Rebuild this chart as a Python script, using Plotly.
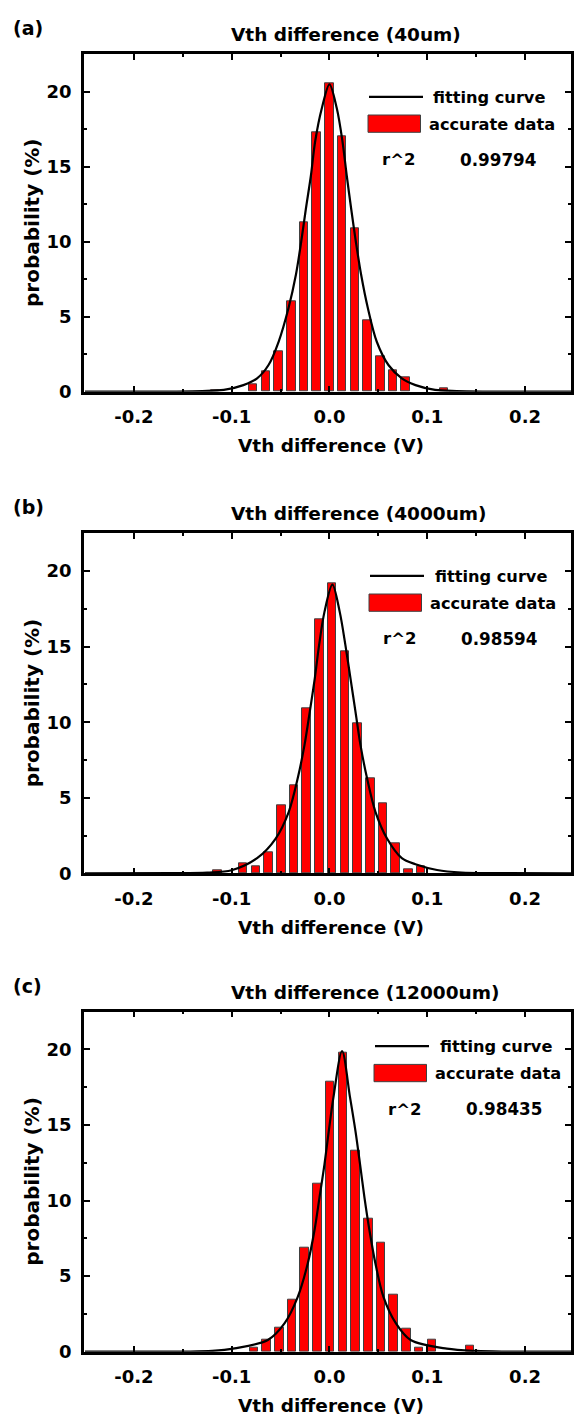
import plotly.graph_objects as go

# ---------------- data ----------------
xtick_vals = [-0.2, -0.1, 0.0, 0.1, 0.2]
xtick_text = ["-0.2", "-0.1", "0.0", "0.1", "0.2"]
ytick_vals = [0, 5, 10, 15, 20]
ytick_text = ["0", "5", "10", "15", "20"]

panel_labels = ["(a)", "(b)", "(c)"]
titles = ["Vth difference (40um)", "Vth difference (4000um)", "Vth difference (12000um)"]
r2_values = ["0.99794", "0.98594", "0.98435"]

# panel (a)
bins_a = [-0.117, -0.078, -0.065, -0.052, -0.039, -0.026, -0.013, 0.0,
          0.013, 0.026, 0.039, 0.052, 0.065, 0.078, 0.117]
prob_a = [0.12, 0.5, 1.33, 2.71, 6.0, 11.27, 17.3, 20.55,
          17.0, 10.9, 4.78, 2.38, 1.44, 0.96, 0.2]
fit_x_a = [-0.25, -0.16, -0.13, -0.108, -0.088, -0.074, -0.0623, -0.052, -0.0418,
           -0.0343, -0.0289, -0.0241, -0.019, -0.0146, -0.0078, 0.0,
           0.0075, 0.0133, 0.0177, 0.0222, 0.027, 0.0324, 0.0392, 0.0484,
           0.0603, 0.074, 0.088, 0.108, 0.13, 0.16, 0.25]
fit_y_a = [0.0, 0.01, 0.04, 0.12, 0.44, 0.89, 1.78, 3.33, 5.6,
           7.8, 10.0, 12.2, 14.4, 16.7, 18.9, 20.5,
           18.9, 16.7, 14.4, 12.2, 10.0, 7.8, 5.6, 3.33,
           1.78, 0.89, 0.44, 0.12, 0.04, 0.01, 0.0]

# panel (b)
bins_b = [-0.1143, -0.0883, -0.0753, -0.0623, -0.0493, -0.0363, -0.0233, -0.0103,
          0.0027, 0.0157, 0.0287, 0.0417, 0.0547, 0.0677, 0.0807, 0.0937]
prob_b = [0.18, 0.64, 0.49, 1.38, 4.5, 5.84, 10.9, 16.8,
          19.2, 14.7, 9.9, 6.3, 4.65, 1.98, 0.28, 0.49]
fit_x_b = [-0.25, -0.16, -0.125, -0.1, -0.074, -0.055, -0.0416, -0.0324, -0.0255,
           -0.0201, -0.015, -0.0106, -0.0051, 0.003,
           0.0105, 0.0163, 0.0215, 0.0266, 0.0317, 0.0384, 0.047, 0.0589,
           0.074, 0.088, 0.11, 0.135, 0.17, 0.25]
fit_y_b = [0.0, 0.01, 0.05, 0.2, 1.0, 2.3, 4.07, 6.3, 8.5,
           10.7, 12.9, 15.1, 17.3, 19.1,
           17.3, 15.1, 12.9, 10.7, 8.5, 6.3, 4.07, 2.3,
           1.0, 0.6, 0.22, 0.05, 0.01, 0.0]

# panel (c)
bins_c = [-0.0773, -0.0643, -0.0513, -0.0383, -0.0253, -0.0123, 0.0007, 0.0137,
          0.0267, 0.0397, 0.0527, 0.0657, 0.0787, 0.0917, 0.1047, 0.1437]
prob_c = [0.26, 0.8, 1.59, 3.47, 6.9, 11.1, 17.9, 19.8,
          13.3, 8.8, 7.22, 3.8, 1.54, 0.26, 0.82, 0.37]
fit_x_c = [-0.25, -0.15, -0.12, -0.097, -0.063, -0.046, -0.0324, -0.0222, -0.0153,
           -0.0102, -0.0051, -0.0007, 0.0041, 0.0129,
           0.021, 0.0266, 0.0313, 0.0358, 0.0409, 0.047, 0.0552, 0.068,
           0.083, 0.12, 0.15, 0.18, 0.25]
fit_y_c = [0.0, 0.01, 0.05, 0.22, 0.77, 1.87, 3.63, 5.84, 8.04,
           10.2, 12.4, 14.6, 16.85, 19.9,
           16.85, 14.6, 12.4, 10.2, 8.04, 5.84, 3.63, 1.87,
           0.77, 0.2, 0.05, 0.01, 0.0]

bins = [bins_a, bins_b, bins_c]
probs = [prob_a, prob_b, prob_c]
fit_xs = [fit_x_a, fit_x_b, fit_x_c]
fit_ys = [fit_y_a, fit_y_b, fit_y_c]

# ---------------- layout geometry (pixels) ----------------
W, H = 579, 1419
FONT = "DejaVu Sans"
PLOT_L, PLOT_R = 84, 571
frames = [(54.3, 391.7), (533.3, 873.3), (1011.7, 1351.7)]
legend_off = [(0, 0), (1, 0), (6, -8)]   # small shifts of the legend block per panel


def px(x):
    return x / W


def py(y):
    return 1 - y / H


fig = go.Figure()
annotations = []
shapes = []

for i in range(3):
    xa = "x" if i == 0 else f"x{i + 1}"
    ya = "y" if i == 0 else f"y{i + 1}"
    top, bottom = frames[i]

    fig.add_trace(go.Bar(
        x=bins[i], y=probs[i], width=0.0088,
        marker=dict(color="#FF0000", line=dict(color="#404040", width=1)),
        xaxis=xa, yaxis=ya, showlegend=False,
    ))
    fig.add_trace(go.Scatter(
        x=fit_xs[i], y=fit_ys[i], mode="lines",
        line=dict(color="black", width=2.2, shape="spline", smoothing=0.9),
        xaxis=xa, yaxis=ya, showlegend=False,
    ))

    axis_common = dict(
        showline=True, linewidth=2.5, linecolor="black", mirror="allticks",
        ticks="inside", ticklen=6, tickwidth=2, tickcolor="black",
        showgrid=False, zeroline=False, automargin=False,
        tickfont=dict(family=FONT, size=18, color="black", weight="bold"),
    )
    xkey = "xaxis" if i == 0 else f"xaxis{i + 1}"
    ykey = "yaxis" if i == 0 else f"yaxis{i + 1}"
    fig.update_layout({
        xkey: dict(
            axis_common, domain=[px(PLOT_L), px(PLOT_R)], anchor=ya,
            range=[-0.251, 0.247], tickvals=xtick_vals, ticktext=xtick_text,
            minor=dict(ticks="inside", ticklen=3, tickwidth=2, dtick=0.05, tick0=0,
                       tickcolor="black", showgrid=False),
            ticklabelstandoff=7,
        ),
        ykey: dict(
            axis_common, domain=[py(bottom), py(top)], anchor=xa,
            range=[0, 22.5], tickvals=ytick_vals, ticktext=ytick_text,
            minor=dict(ticks="inside", ticklen=3, tickwidth=2, dtick=2.5, tick0=0,
                       tickcolor="black", showgrid=False),
            ticklabelstandoff=6,
        ),
    })

    bold = dict(family=FONT, color="black", weight="bold")
    # panel label
    annotations.append(dict(text=panel_labels[i], x=px(11), y=py(top - 26),
                            xref="paper", yref="paper", xanchor="left", yanchor="middle",
                            showarrow=False, font=dict(bold, size=19)))
    # title
    annotations.append(dict(text=titles[i], x=px(229), y=py(top - 19.5),
                            xref="paper", yref="paper", xanchor="left", yanchor="middle",
                            showarrow=False, font=dict(bold, size=18.5)))
    # y label
    annotations.append(dict(text="probability (%)", x=px(32), y=py((top + bottom) / 2),
                            xref="paper", yref="paper", xanchor="center", yanchor="middle",
                            textangle=-90, showarrow=False, font=dict(bold, size=20)))
    # x label
    annotations.append(dict(text="Vth difference (V)", x=px(331), y=py(bottom + 54),
                            xref="paper", yref="paper", xanchor="center", yanchor="middle",
                            showarrow=False, font=dict(bold, size=18.5)))

    # legend block
    dx, dy = legend_off[i]
    shapes.append(dict(type="line", xref="paper", yref="paper",
                       x0=px(369 + dx), x1=px(423 + dx),
                       y0=py(top + 42.5 + dy), y1=py(top + 42.5 + dy),
                       line=dict(color="black", width=2.2)))
    shapes.append(dict(type="rect", xref="paper", yref="paper",
                       x0=px(368 + dx), x1=px(420.5 + dx),
                       y0=py(top + 60.7 + dy), y1=py(top + 78 + dy),
                       fillcolor="#FF0000", line=dict(color="#404040", width=1)))
    annotations.append(dict(text="fitting curve", x=px(431.5 + dx), y=py(top + 43 + dy),
                            xref="paper", yref="paper", xanchor="left", yanchor="middle",
                            showarrow=False, font=dict(bold, size=16.2)))
    annotations.append(dict(text="accurate data", x=px(426.5 + dx), y=py(top + 70 + dy),
                            xref="paper", yref="paper", xanchor="left", yanchor="middle",
                            showarrow=False, font=dict(bold, size=16.2)))
    annotations.append(dict(text="r^2", x=px(380 + dx), y=py(top + 105.3 + dy),
                            xref="paper", yref="paper", xanchor="left", yanchor="middle",
                            showarrow=False, font=dict(bold, size=16.5)))
    annotations.append(dict(text=r2_values[i], x=px(458 + dx), y=py(top + 105.3 + dy),
                            xref="paper", yref="paper", xanchor="left", yanchor="middle",
                            showarrow=False, font=dict(bold, size=16.8)))

fig.update_layout(
    width=W, height=H,
    margin=dict(l=0, r=0, t=0, b=0),
    paper_bgcolor="white", plot_bgcolor="white",
    showlegend=False, bargap=0,
    annotations=annotations, shapes=shapes,
)

# remove the browser's default 8px page margin so the figure sits at the page origin
fig.write_html(
    "out.html",
    config={"displayModeBar": False},
    post_script="document.body.style.margin='0';document.body.style.overflow='hidden';",
)
